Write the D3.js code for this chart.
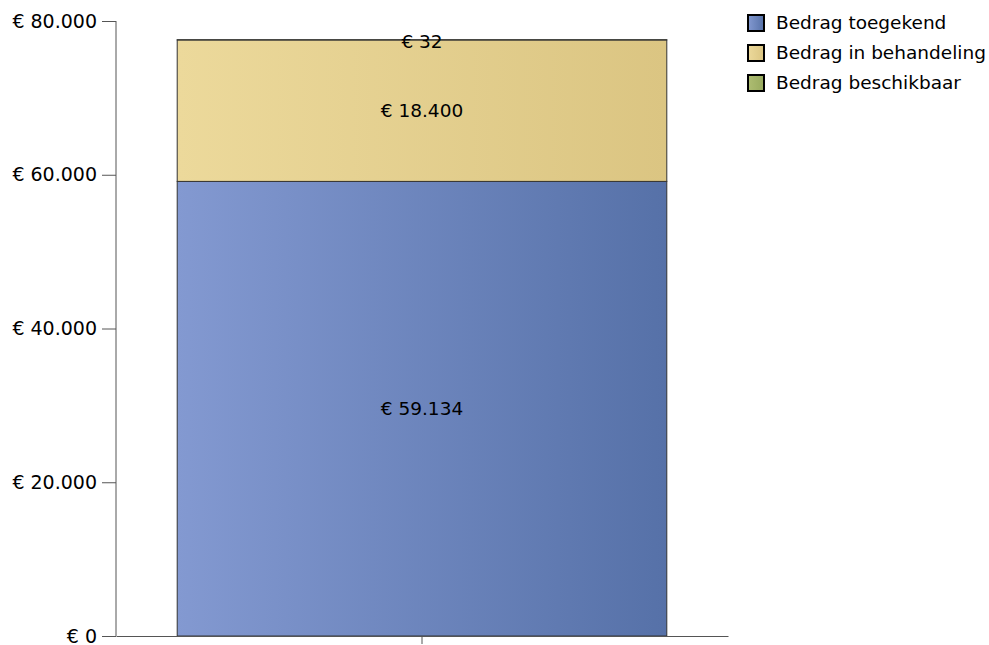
<!DOCTYPE html>
<html>
<head>
<meta charset="utf-8">
<script src="https://cdn.jsdelivr.net/npm/d3@7"></script>
<style>
  body { margin: 0; background: #fff; }
  text { font-family: "DejaVu Sans", Verdana, sans-serif; }
</style>
</head>
<body>
<div id="chart"></div>
<script>
var w = 989;
var h = 645;

// data
var categories = [""];
var seriesNames = ["Bedrag toegekend", "Bedrag in behandeling", "Bedrag beschikbaar"];
var toegekend = [59134];
var inBehandeling = [18400];
var beschikbaar = [32];
var yTicks = [0, 20000, 40000, 60000, 80000];

var colorsLeft = ["#8399d1", "#ecd99b", "#aebd72"];
var colorsRight = ["#5671a8", "#dbc582", "#98aa5e"];

var plotLeft = 116, plotRight = 728, plotTop = 21, plotBottom = 636;

var nl = d3.formatLocale({ decimal: ",", thousands: ".", grouping: [3], currency: ["€ ", ""] });
var euro = nl.format("$,.0f");

var rows = categories.map(function(c, i) {
  return { cat: c, "Bedrag toegekend": toegekend[i], "Bedrag in behandeling": inBehandeling[i], "Bedrag beschikbaar": beschikbaar[i] };
});
var stacked = d3.stack().keys(seriesNames)(rows);

const svg = d3.select("#chart")
              .append("svg")
              .attr("width", w)
              .attr("height", h);

var defs = svg.append("defs");
seriesNames.forEach(function(s, i) {
  var g = defs.append("linearGradient")
    .attr("id", "grad" + i)
    .attr("x1", "0%").attr("x2", "100%")
    .attr("y1", "0%").attr("y2", "0%");
  g.append("stop").attr("offset", "0%").attr("stop-color", colorsLeft[i]);
  g.append("stop").attr("offset", "100%").attr("stop-color", colorsRight[i]);
});

var xScale = d3.scaleBand()
  .domain(categories)
  .range([plotLeft, plotRight])
  .paddingInner(0.2)
  .paddingOuter(0.1);

var yScale = d3.scaleLinear()
  .domain([0, 80000])
  .range([plotBottom, plotTop]);

// bars
var layers = svg.selectAll("g.layer")
  .data(stacked)
  .enter()
  .append("g")
  .attr("class", "layer")
  .attr("fill", function(d, i) { return "url(#grad" + i + ")"; });

layers.selectAll("rect")
  .data(function(d) { return d; })
  .enter()
  .append("rect")
  .attr("x", function(d) { return xScale(d.data.cat); })
  .attr("y", function(d) { return yScale(d[1]); })
  .attr("width", xScale.bandwidth())
  .attr("height", function(d) { return yScale(d[0]) - yScale(d[1]); })
  .attr("stroke", "#333")
  .attr("stroke-width", 1);

// value labels (a very thin segment gets its label pushed a little down)
stacked.forEach(function(layer) {
  svg.selectAll(null)
    .data(layer)
    .enter()
    .append("text")
    .attr("x", function(d) { return xScale(d.data.cat) + xScale.bandwidth() / 2; })
    .attr("y", function(d) {
      var mid = (yScale(d[0]) + yScale(d[1])) / 2;
      return (yScale(d[0]) - yScale(d[1]) < 5) ? mid + 2 : mid;
    })
    .attr("dy", "0.35em")
    .attr("text-anchor", "middle")
    .style("font-size", "18.5px")
    .attr("fill", "#000")
    .text(function(d) { return euro(d[1] - d[0]); });
});

// axes
var yAxis = d3.axisLeft(yScale)
  .tickValues(yTicks)
  .tickSize(14)
  .tickPadding(5)
  .tickFormat(euro);

var yAxisGroup = svg.append("g")
  .attr("transform", "translate(" + plotLeft + ",0)")
  .call(yAxis);
yAxisGroup.select(".domain").attr("d", "M0," + plotTop + "V" + plotBottom);

var xAxis = d3.axisBottom(xScale)
  .tickSize(8)
  .tickSizeOuter(0);

var xAxisGroup = svg.append("g")
  .attr("transform", "translate(0," + plotBottom + ")")
  .call(xAxis);

[yAxisGroup, xAxisGroup].forEach(function(g) {
  g.selectAll("path, line").attr("stroke", "#555");
  g.selectAll("text")
    .attr("fill", "#000")
    .style("font-size", "19px")
    .style("font-family", "'DejaVu Sans', Verdana, sans-serif");
});

// legend
var legend = svg.append("g")
  .selectAll("g")
  .data(seriesNames)
  .enter()
  .append("g")
  .attr("transform", function(d, i) { return "translate(747," + (14 + i * 30) + ")"; });

legend.append("rect")
  .attr("x", 1).attr("y", 1)
  .attr("width", 16).attr("height", 16)
  .attr("fill", function(d, i) { return "url(#grad" + i + ")"; })
  .attr("stroke", "#000")
  .attr("stroke-width", 2);

legend.append("text")
  .attr("x", 29)
  .attr("y", 9)
  .attr("dy", "0.35em")
  .style("font-size", "18.5px")
  .attr("fill", "#000")
  .text(function(d) { return d; });
</script>
</body>
</html>
